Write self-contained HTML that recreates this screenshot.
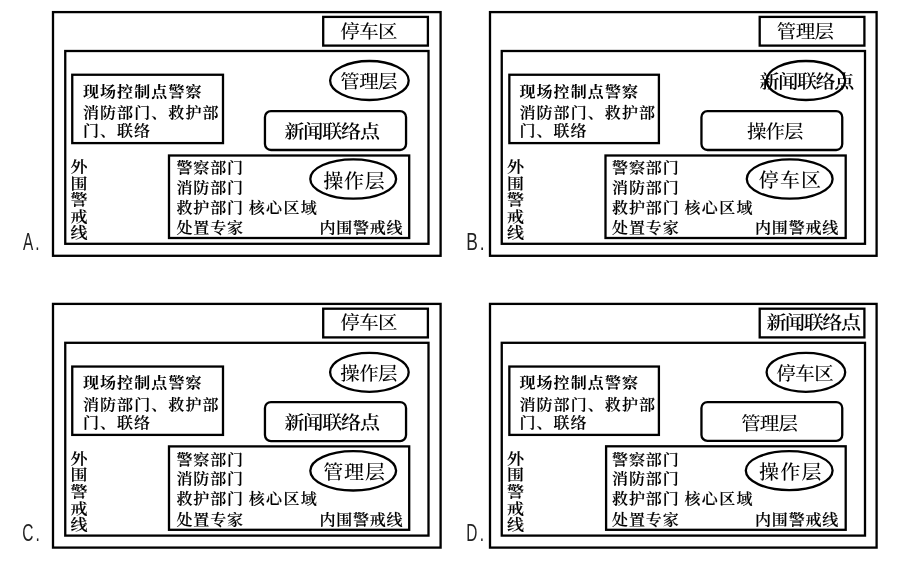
<!DOCTYPE html>
<html lang="zh-CN">
<head>
<meta charset="utf-8">
<title>应急现场分区示意图</title>
<style>
html, body { margin: 0; padding: 0; background: #fff; }
body { width: 907px; height: 567px; overflow: hidden; }
svg { display: block; will-change: transform; }
.ln { fill: none; stroke: #000; stroke-width: 2.3; }
.el { fill: none; stroke: #000; stroke-width: 2.3; }
text { fill: #000; font-family: "Liberation Serif", "Noto Serif CJK SC", serif; }
.tb { font-size: 16px; font-weight: 600; stroke: #000; stroke-width: 0.12px; }
.tb1 { font-weight: 700; stroke-width: 0; }
.tm { font-size: 16px; font-weight: 600; stroke: #000; stroke-width: 0.12px; }
.tv { font-size: 17px; font-weight: 600; stroke: #000; stroke-width: 0.12px; }
.vt { writing-mode: vertical-rl; letter-spacing: 1.5px; }
.t20 { font-size: 19.5px; font-weight: 500; }
.t5 { font-size: 19.5px; font-weight: 600; }
.t21 { font-size: 20px; font-weight: 500; }
.lab { font-family: "Liberation Sans", sans-serif; font-weight: 400; font-size: 22.6px; fill: #222; }
</style>
</head>
<body>
<svg width="907" height="567" viewBox="0 0 907 567">
<rect x="0" y="0" width="907" height="567" fill="#fff"/>
<g transform="translate(0 0)">
<rect class="ln" x="53" y="12.1" width="387.6" height="243.7"/>
<rect class="ln" x="65.25" y="51" width="363.25" height="192.8"/>
<rect class="ln" x="323.2" y="16.9" width="104.7" height="28.7"/>
<rect class="ln" x="72.25" y="74.75" width="150.75" height="68.35"/>
<rect class="ln" x="264.95" y="111.15" width="141.1" height="38.85" rx="6" ry="6"/>
<rect class="ln" x="169" y="155.5" width="240.2" height="82.5"/>
<ellipse class="el" cx="369.4" cy="80.5" rx="39.3" ry="19.5"/>
<ellipse class="el" cx="353.2" cy="179" rx="42.9" ry="19.7"/>
<text class="lab" style="letter-spacing:3.2px" transform="translate(22.9 249.5) scale(0.68 1.06)">A.</text>
<text class="tb tb1" transform="translate(82.9 96.5) scale(1 0.92)" textLength="118.6">现场控制点警察</text>
<text class="tb" transform="translate(82.9 117.9) scale(1 0.92)" textLength="135.6">消防部门、救护部</text>
<text class="tb" transform="translate(82.9 136.4) scale(1 0.92)" textLength="67">门、联络</text>
<text class="tv vt" transform="translate(77.4 158.4) scale(1 0.9)">外围警戒线</text>
<text class="tm" transform="translate(176.4 172.9) scale(1 0.92)" textLength="66.6">警察部门</text>
<text class="tm" transform="translate(176.4 192.5) scale(1 0.92)" textLength="66.6">消防部门</text>
<text class="tm" transform="translate(176.4 212.6) scale(1 0.92)" textLength="66.6">救护部门</text>
<text class="tm" transform="translate(248.8 212.6) scale(1 0.92)" textLength="68">核心区域</text>
<text class="tm" transform="translate(176.4 232.8) scale(1 0.92)" textLength="66.6">处置专家</text>
<text class="tm" transform="translate(319.4 232.8) scale(1 0.92)" textLength="83.1">内围警戒线</text>
<text class="t20" transform="translate(340.2 37.5) scale(1 0.96)" textLength="57.4">停车区</text>
<text class="t20" transform="translate(340.2 88) scale(1 0.96)" textLength="57.4">管理层</text>
<text class="t5" transform="translate(284.4 138.2) scale(1.03 0.96)" textLength="92.82">新闻联络点</text>
<text class="t21" transform="translate(323.2 187.6) scale(1 0.95)" textLength="61.6">操作层</text>
</g>
<g transform="translate(436.5 0)">
<rect class="ln" x="53.5" y="12.1" width="386.6" height="243.7"/>
<rect class="ln" x="65.25" y="51" width="363.25" height="192.8"/>
<rect class="ln" x="323.2" y="16.9" width="104.7" height="28.7"/>
<rect class="ln" x="72.85" y="74.75" width="149.55" height="68.35"/>
<rect class="ln" x="264.95" y="111.15" width="140.8" height="38.85" rx="6" ry="6"/>
<rect class="ln" x="169" y="155.5" width="240.2" height="82.5"/>
<ellipse class="el" cx="369.4" cy="80.5" rx="39.3" ry="19.5"/>
<ellipse class="el" cx="353.2" cy="179" rx="42.9" ry="19.7"/>
<text class="lab" style="letter-spacing:2.5px" transform="translate(29.7 249.55) scale(0.77 1.05)">B.</text>
<text class="tb tb1" transform="translate(82.9 96.5) scale(1 0.92)" textLength="118.6">现场控制点警察</text>
<text class="tb" transform="translate(82.9 117.9) scale(1 0.92)" textLength="135.6">消防部门、救护部</text>
<text class="tb" transform="translate(82.9 136.4) scale(1 0.92)" textLength="67">门、联络</text>
<text class="tv vt" transform="translate(77.4 158.4) scale(1 0.9)">外围警戒线</text>
<text class="tm" transform="translate(175.6 172.9) scale(1 0.92)" textLength="66.6">警察部门</text>
<text class="tm" transform="translate(175.6 192.5) scale(1 0.92)" textLength="66.6">消防部门</text>
<text class="tm" transform="translate(175.6 212.6) scale(1 0.92)" textLength="66.6">救护部门</text>
<text class="tm" transform="translate(248 212.6) scale(1 0.92)" textLength="68">核心区域</text>
<text class="tm" transform="translate(175.6 232.8) scale(1 0.92)" textLength="66.6">处置专家</text>
<text class="tm" transform="translate(318.6 232.8) scale(1 0.92)" textLength="83.1">内围警戒线</text>
<text class="t20" transform="translate(340.2 37.5) scale(1 0.96)" textLength="57.4">管理层</text>
<text class="t5" transform="translate(323 87.6) scale(1.03 0.96)" textLength="92.14">新闻联络点</text>
<text class="t20" transform="translate(310.5 138.2) scale(1 0.96)" textLength="56.4">操作层</text>
<text class="t21" transform="translate(322.3 186.7) scale(1 0.95)" textLength="62.2">停车区</text>
</g>
<g transform="translate(0 291.8)">
<rect class="ln" x="53" y="12.1" width="387.6" height="243.7"/>
<rect class="ln" x="65.25" y="51" width="363.25" height="192.8"/>
<rect class="ln" x="323.2" y="16.9" width="104.7" height="28.7"/>
<rect class="ln" x="72.25" y="74.75" width="150.75" height="68.35"/>
<rect class="ln" x="264.95" y="110.25" width="141.1" height="39.05" rx="6" ry="6"/>
<rect class="ln" x="169" y="154.6" width="240.2" height="83.4"/>
<ellipse class="el" cx="369.4" cy="80.5" rx="39.3" ry="19.5"/>
<ellipse class="el" cx="353.2" cy="179" rx="42.9" ry="19.7"/>
<text class="lab" style="letter-spacing:3.1px" transform="translate(22.3 249) scale(0.685 1.06)">C.</text>
<text class="tb tb1" transform="translate(82.9 96.5) scale(1 0.92)" textLength="118.6">现场控制点警察</text>
<text class="tb" transform="translate(82.9 117.9) scale(1 0.92)" textLength="135.6">消防部门、救护部</text>
<text class="tb" transform="translate(82.9 136.4) scale(1 0.92)" textLength="67">门、联络</text>
<text class="tv vt" transform="translate(77.4 158.4) scale(1 0.9)">外围警戒线</text>
<text class="tm" transform="translate(176.4 172.9) scale(1 0.92)" textLength="66.6">警察部门</text>
<text class="tm" transform="translate(176.4 192.5) scale(1 0.92)" textLength="66.6">消防部门</text>
<text class="tm" transform="translate(176.4 212.6) scale(1 0.92)" textLength="66.6">救护部门</text>
<text class="tm" transform="translate(248.8 212.6) scale(1 0.92)" textLength="68">核心区域</text>
<text class="tm" transform="translate(176.4 232.8) scale(1 0.92)" textLength="66.6">处置专家</text>
<text class="tm" transform="translate(319.4 232.8) scale(1 0.92)" textLength="83.1">内围警戒线</text>
<text class="t20" transform="translate(340.2 37.5) scale(1 0.96)" textLength="57.4">停车区</text>
<text class="t20" transform="translate(340.2 88) scale(1 0.96)" textLength="57.4">操作层</text>
<text class="t5" transform="translate(284.4 137.6) scale(1.03 0.96)" textLength="92.82">新闻联络点</text>
<text class="t21" transform="translate(323.2 187.6) scale(1 0.95)" textLength="61.8">管理层</text>
</g>
<g transform="translate(436.5 291.8)">
<rect class="ln" x="53.5" y="12.1" width="386.6" height="243.7"/>
<rect class="ln" x="65.25" y="51" width="363.25" height="192.8"/>
<rect class="ln" x="323.2" y="16.9" width="104.7" height="28.7"/>
<rect class="ln" x="72.85" y="74.75" width="149.55" height="68.35"/>
<rect class="ln" x="264.95" y="110.25" width="140.8" height="38.85" rx="6" ry="6"/>
<rect class="ln" x="169.6" y="154.5" width="239.6" height="83.5"/>
<ellipse class="el" cx="369.4" cy="80.5" rx="39.3" ry="19.5"/>
<ellipse class="el" cx="352.7" cy="178.8" rx="43.4" ry="19.5"/>
<text class="lab" style="letter-spacing:3.7px" transform="translate(29.7 249.05) scale(0.683 1.06)">D.</text>
<text class="tb tb1" transform="translate(82.9 96.5) scale(1 0.92)" textLength="118.6">现场控制点警察</text>
<text class="tb" transform="translate(82.9 117.9) scale(1 0.92)" textLength="135.6">消防部门、救护部</text>
<text class="tb" transform="translate(82.9 136.4) scale(1 0.92)" textLength="67">门、联络</text>
<text class="tv vt" transform="translate(77.4 158.4) scale(1 0.9)">外围警戒线</text>
<text class="tm" transform="translate(175.6 172.9) scale(1 0.92)" textLength="66.6">警察部门</text>
<text class="tm" transform="translate(175.6 192.5) scale(1 0.92)" textLength="66.6">消防部门</text>
<text class="tm" transform="translate(175.6 212.6) scale(1 0.92)" textLength="66.6">救护部门</text>
<text class="tm" transform="translate(248 212.6) scale(1 0.92)" textLength="68">核心区域</text>
<text class="tm" transform="translate(175.6 232.8) scale(1 0.92)" textLength="66.6">处置专家</text>
<text class="tm" transform="translate(318.6 232.8) scale(1 0.92)" textLength="83.1">内围警戒线</text>
<text class="t5" transform="translate(330 37.5) scale(1.03 0.96)" textLength="91.75">新闻联络点</text>
<text class="t20" transform="translate(339.8 88) scale(1 0.96)" textLength="57.4">停车区</text>
<text class="t20" transform="translate(304.7 137.8) scale(1 0.96)" textLength="56.8">管理层</text>
<text class="t21" transform="translate(322.6 187.6) scale(1 0.95)" textLength="62.4">操作层</text>
</g>
</svg>
</body>
</html>
